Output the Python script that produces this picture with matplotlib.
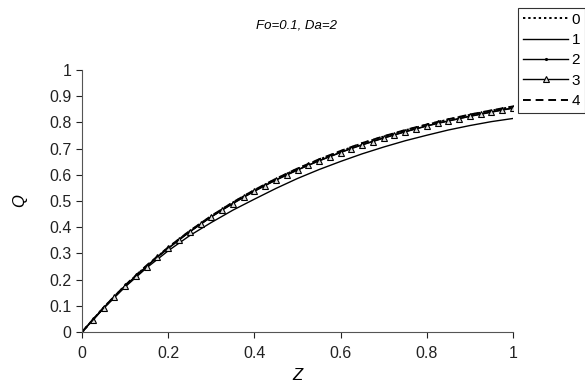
import matplotlib.pyplot as plt
import numpy as np

plt.rcParams["font.family"] = ["Liberation Sans", "DejaVu Sans"]

# Z grid for the marked series (every 0.025) and plain lines (every 0.05)
z_fine = np.linspace(0, 1, 41)
z_coarse = np.linspace(0, 1, 21)

q0 = [0, 0.093, 0.177, 0.253, 0.322, 0.385, 0.442, 0.494, 0.541, 0.584, 0.623,
      0.658, 0.690, 0.720, 0.746, 0.770, 0.791, 0.811, 0.829, 0.845, 0.860]
q1 = [0, 0.090, 0.172, 0.245, 0.310, 0.368, 0.418, 0.465, 0.507, 0.548, 0.586,
      0.620, 0.651, 0.680, 0.706, 0.730, 0.751, 0.771, 0.788, 0.803, 0.815]
q2 = [0, 0.047, 0.092, 0.135, 0.176, 0.214, 0.251, 0.287, 0.320, 0.352, 0.383,
      0.412, 0.440, 0.466, 0.491, 0.515, 0.538, 0.560, 0.580, 0.600, 0.619,
      0.637, 0.654, 0.670, 0.686, 0.701, 0.715, 0.728, 0.741, 0.753, 0.765,
      0.776, 0.787, 0.797, 0.806, 0.815, 0.824, 0.832, 0.840, 0.848, 0.855]
q3 = [0, 0.046, 0.091, 0.134, 0.175, 0.213, 0.250, 0.286, 0.319, 0.351, 0.382,
      0.411, 0.439, 0.465, 0.490, 0.514, 0.537, 0.559, 0.580, 0.599, 0.618,
      0.636, 0.653, 0.669, 0.685, 0.700, 0.714, 0.727, 0.740, 0.752, 0.764,
      0.775, 0.786, 0.796, 0.805, 0.814, 0.823, 0.831, 0.839, 0.847, 0.854]
q4 = [0, 0.093, 0.178, 0.254, 0.323, 0.386, 0.443, 0.495, 0.542, 0.585, 0.624,
      0.659, 0.691, 0.721, 0.747, 0.771, 0.792, 0.812, 0.830, 0.846, 0.861]

fig = plt.figure(figsize=(5.85, 3.91), dpi=100)
ax = fig.add_axes([82 / 585, 59 / 391, 431 / 585, 262 / 391])

ax.plot(z_coarse, q0, color="black", linestyle=(0, (1.2, 1.5)), linewidth=1.4, label="0")
ax.plot(z_coarse, q1, color="black", linestyle="-", linewidth=1.0, label="1")
ax.plot(z_fine, q2, color="black", linestyle="-", linewidth=1.0,
        marker=".", markersize=2.5, label="2")
ax.plot(z_fine, q3, color="black", linestyle="-", linewidth=1.0,
        marker="^", markersize=4, markerfacecolor="#dddddd",
        markeredgewidth=0.8, label="3")
ax.plot(z_coarse, q4, color="black", linestyle=(0, (4, 2.5)), linewidth=1.4, label="4")

ax.set_xlim(0, 1)
ax.set_ylim(0, 1)
ax.set_xticks(np.arange(0, 1.01, 0.2))
ax.set_xticklabels(["0", "0.2", "0.4", "0.6", "0.8", "1"])
ax.set_yticks(np.arange(0, 1.01, 0.1))
ax.set_yticklabels(["0", "0.1", "0.2", "0.3", "0.4", "0.5", "0.6", "0.7", "0.8", "0.9", "1"])
ax.tick_params(direction="out", length=4, width=0.8, labelsize=11.5, colors="#222222")
ax.tick_params(axis="x", pad=6)
ax.spines["top"].set_visible(False)
ax.spines["right"].set_visible(False)
ax.spines["left"].set_color("#555555")
ax.spines["bottom"].set_color("#555555")

ax.set_xlabel("Z", fontsize=12, fontstyle="italic", labelpad=5)
ax.set_ylabel("Q", fontsize=12, fontstyle="italic", labelpad=16)
fig.text(297 / 585, 1 - 25 / 391, "Fo=0.1, Da=2", fontsize=9.5, fontstyle="italic",
         ha="center", va="center")

leg = ax.legend(loc="upper left", bbox_to_anchor=(518 / 585, 1 - 8 / 391),
                bbox_transform=fig.transFigure, frameon=True, fancybox=False,
                edgecolor="black", fontsize=11, handlelength=3.0, handletextpad=0.2,
                labelspacing=0.42, borderpad=0.3, borderaxespad=0)
leg.get_frame().set_linewidth(0.8)

fig.savefig("out.png", dpi=100)
